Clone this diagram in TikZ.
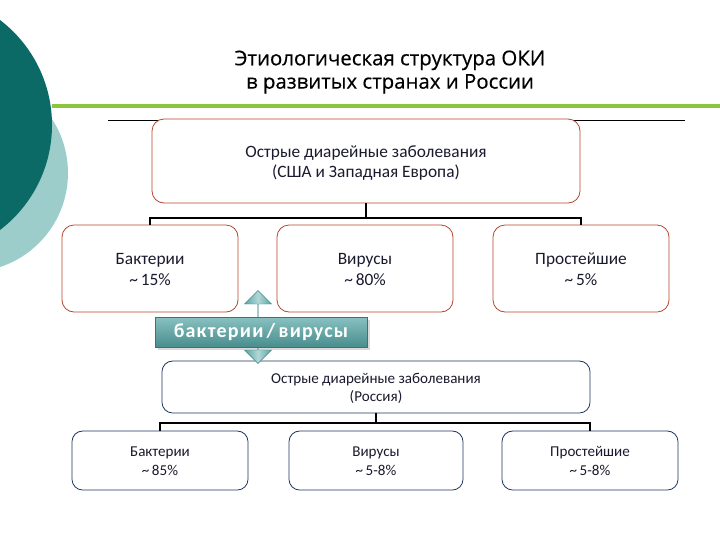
\documentclass[tikz,border=0pt]{standalone}
\usepackage{fontspec}
\setmainfont{Carlito}
\newfontfamily\titlefont[FakeBold=0.4]{Open Sans}
\usetikzlibrary{shapes.arrows,shadows}
\definecolor{darkteal}{HTML}{0B6A66}
\definecolor{lightteal}{HTML}{9CCDCB}
\definecolor{lgreen}{HTML}{8CC63E}
\definecolor{redb}{HTML}{B5452E}
\definecolor{navyb}{HTML}{1F3560}
\definecolor{txt}{HTML}{1A1A2E}
\definecolor{labteal}{HTML}{56A6A6}
\newcommand\twoln[2]{\rule{0pt}{1.05em}#1\\#2\rule[-0.3em]{0pt}{0pt}}
\tikzset{
  topbox/.style={draw=redb, line width=0.6pt, rounded corners=9, fill=white, minimum width=#1, align=center, text=txt, font=\fontsize{13}{15.5}\selectfont},
  botbox/.style={draw=navyb, line width=0.6pt, rounded corners=8, fill=white, minimum width=#1, align=center, text=txt, font=\fontsize{11.3}{14}\selectfont},
  conn/.style={line width=1.6pt, black},
}
\begin{document}
\begin{tikzpicture}[x=0.75pt,y=-0.75pt]
\useasboundingbox (0,0) rectangle (720,540);
% decoration
\fill[lightteal] (-31,173) circle[radius=99];
\fill[darkteal] (-80,125) circle[radius=132];
\draw[lgreen, line width=3pt] (52,106) -- (720,106);
\draw[black, line width=0.6pt] (108,120) -- (685,120);
% title
\node[font=\titlefont\fontsize{15.3}{17.5}\selectfont, align=center] (title) at (390,72) {Этиологическая структура ОКИ\\в развитых странах и России};
% upper tree
\node[topbox=321pt, minimum height=63pt] (t0) at (366,161) {\twoln{Острые диарейные заболевания}{(США и Западная Европа)}};
\node[topbox=132pt, minimum height=65.25pt] (t1) at (150,268.5) {\twoln{Бактерии}{\textasciitilde\,15\%}};
\node[topbox=132pt, minimum height=65.25pt] (t2) at (365,268.5) {\twoln{Вирусы}{\textasciitilde\,80\%}};
\node[topbox=132pt, minimum height=65.25pt] (t3) at (581,268.5) {\twoln{Простейшие}{\textasciitilde\,5\%}};
\coordinate (tj) at (366,218);
\draw[conn] (t0.south) -- (tj);
\draw[conn] (t1.north) |- (tj) -| (t3.north);
% lower tree
\node[botbox=321pt, minimum height=39pt] (b0) at (376,387) {\twoln{Острые диарейные заболевания}{(Россия)}};
\node[botbox=132pt, minimum height=44.25pt] (b1) at (160,460.5) {\twoln{Бактерии}{\textasciitilde\,85\%}};
\node[botbox=130.5pt, minimum height=44.25pt] (b2) at (376,460.5) {\twoln{Вирусы}{\textasciitilde\,5-8\%}};
\node[botbox=132pt, minimum height=44.25pt] (b3) at (590,460.5) {\twoln{Простейшие}{\textasciitilde\,5-8\%}};
\coordinate (bj) at (376,423);
\draw[conn] (b0.south) -- (bj);
\draw[conn] (b1.north) |- (bj) -| (b3.north);
% double arrow
\node[double arrow, shape border rotate=90, draw=labteal!80!black, line width=0.3pt,
  minimum height=54.75pt, minimum width=20.25pt, double arrow head extend=4.1pt,
  inner sep=0pt, left color=labteal, right color=labteal, middle color=labteal!45!white] (arr) at (258,327) {};
\node[draw=labteal!70!black, line width=0.3pt, minimum width=159pt, minimum height=22.5pt,
  inner sep=0pt, text=white, font=\bfseries\fontsize{15}{16}\selectfont\addfontfeature{LetterSpace=6},
  top color=labteal!70!white, bottom color=labteal!85!black, drop shadow={opacity=0.3}] (lab) at (261,332) {бактерии\,/\,вирусы};
\end{tikzpicture}
\end{document}
